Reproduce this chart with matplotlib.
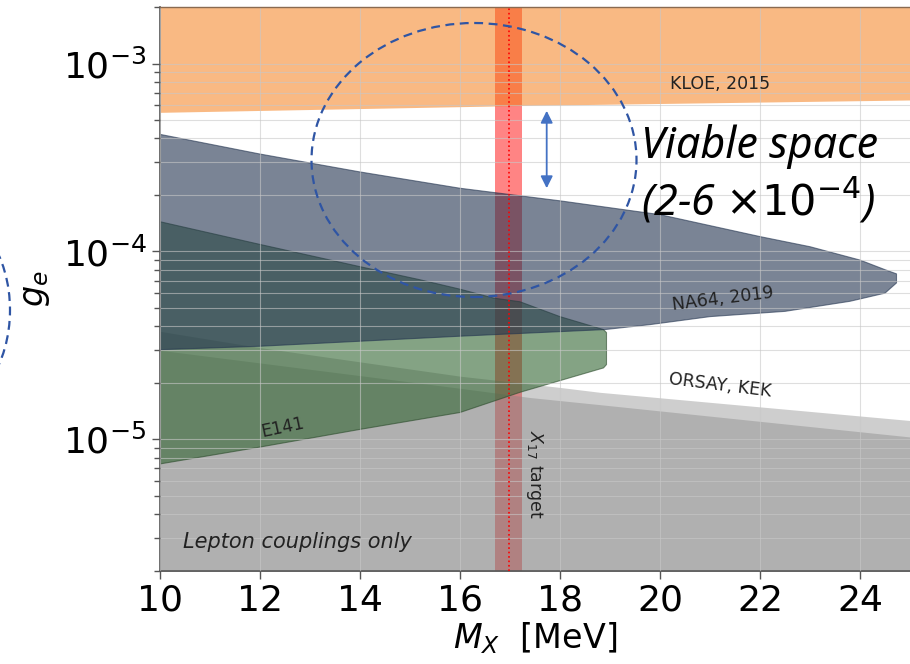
import numpy as np
import matplotlib
matplotlib.use("Agg")
import matplotlib.pyplot as plt
from matplotlib.patches import Ellipse, FancyArrowPatch

# ---- data ----
kloe_x = [10, 17.5, 25]
kloe_low = [5.5e-4, 6.0e-4, 6.4e-4]

na64_up_x = [10, 12, 14, 16, 18, 20, 22, 23, 24, 24.5, 24.73]
na64_up_y = [4.2e-4, 3.3e-4, 2.65e-4, 2.17e-4, 1.86e-4, 1.57e-4, 1.2e-4, 1.06e-4, 9.0e-5, 8.0e-5, 7.6e-5]
na64_lo_x = [24.73, 24.5, 23.8, 22.5, 21, 19.8, 18.9, 16, 12, 10]
na64_lo_y = [6.8e-5, 6.0e-5, 5.43e-5, 4.8e-5, 4.5e-5, 4.08e-5, 3.84e-5, 3.54e-5, 3.13e-5, 3.0e-5]

e141_up_x = [10, 12, 14, 15.2, 16, 16.67, 17.2, 18, 18.87, 18.93]
e141_up_y = [1.44e-4, 1.09e-4, 8.3e-5, 7.07e-5, 6.3e-5, 5.65e-5, 5.4e-5, 4.5e-5, 3.84e-5, 3.7e-5]
e141_lo_x = [18.93, 18.87, 17.2, 16, 14, 12, 10]
e141_lo_y = [2.5e-5, 2.4e-5, 1.78e-5, 1.39e-5, 1.13e-5, 9.1e-6, 7.4e-6]

orsay_x = [10, 12, 16, 18, 18.8, 25]
orsay_top = [3.76e-5, 3.08e-5, 2.17e-5, 1.89e-5, 1.78e-5, 1.26e-5]
lepton_x = [10, 13, 16, 17.4, 18.8, 25]
lepton_top = [2.98e-5, 2.36e-5, 1.87e-5, 1.67e-5, 1.53e-5, 1.03e-5]

x17_band = (16.7, 17.23)
x17_center = 16.97

xticks = [10, 12, 14, 16, 18, 20, 22, 24]

# ---- figure ----
fig = plt.figure(figsize=(9.10, 6.64), dpi=100)
ax = fig.add_axes([160/910, 1 - 570.7/664, 750/910, (570.7 - 7)/664])
ax.set_yscale('log')
ax.set_xlim(10, 25)
ax.set_ylim(2e-6, 2e-3)

bottom = 1e-7
ax.axvspan(x17_band[0], x17_band[1], color='#ff0a0a', alpha=0.5, lw=0, zorder=0.5)

ax.fill_between(orsay_x, bottom, orsay_top, color='#808080', alpha=0.38, lw=0, zorder=1)
ax.fill_between(lepton_x, bottom, lepton_top, color='#808080', alpha=0.38, lw=0, zorder=1.1)

ax.fill(e141_up_x + e141_lo_x, e141_up_y + e141_lo_y, facecolor='#336633', alpha=0.6,
        edgecolor='#2a4a2a', lw=0.8, zorder=1.5)
ax.fill(na64_up_x + na64_lo_x, na64_up_y + na64_lo_y, facecolor='#22334f', alpha=0.6,
        edgecolor='#22334f', lw=0.8, zorder=1.8)
ax.fill_between(kloe_x, kloe_low, 1e-1, color='#f57a12', alpha=0.52, lw=0, zorder=1.9)

ax.axvline(x17_center, color='red', ls=':', lw=1.2, zorder=5)

ax.grid(True, which='major', color='#c8c8c8', lw=0.8, alpha=0.6)
ax.grid(True, which='minor', axis='y', color='#c8c8c8', lw=0.8, alpha=0.6)
ax.set_axisbelow(False)

ax.set_xticks(xticks)
ax.tick_params(axis='both', which='major', labelsize=26, length=6, width=1, color='#555555')
ax.tick_params(axis='y', which='minor', length=4, width=1, color='#555555')
for s in ['top', 'right']:
    ax.spines[s].set_visible(False)
for s in ['left', 'bottom']:
    ax.spines[s].set_color('#555555')
    ax.spines[s].set_linewidth(1.2)
ax.plot([0, 1], [1, 1], transform=ax.transAxes, color='#8a6a50', lw=1, clip_on=False, zorder=6)

ax.set_xlabel(r'$M_X$  [MeV]', fontsize=24, labelpad=2)
ax.set_ylabel(r'$g_e$', fontsize=24, labelpad=8)

# region labels
ax.text(21.2, 7.8e-4, 'KLOE, 2015', fontsize=12.5, ha='center', va='center', color='#222222', zorder=7)
ax.text(21.25, 5.6e-5, 'NA64, 2019', fontsize=12.5, ha='center', va='center', rotation=7,
        color='#222222', zorder=7)
ax.text(21.2, 1.95e-5, 'ORSAY, KEK', fontsize=12.5, ha='center', va='center', rotation=-7,
        color='#222222', zorder=7)
ax.text(12.45, 1.16e-5, 'E141', fontsize=12.5, ha='center', va='center', rotation=12,
        color='#222222', zorder=7)
ax.text(17.5, 6.5e-6, r'$X_{17}$ target', fontsize=12.5, ha='center', va='center', rotation=-90,
        color='#222222', zorder=7)
ax.text(0.031, 0.033, 'Lepton couplings only', transform=ax.transAxes, fontsize=15,
        style='italic', ha='left', va='bottom', color='#222222', zorder=7)

# slide annotations (figure coordinates)
W, H = 910, 664
def fx(px): return px / W
def fy(py): return 1 - py / H

e1 = Ellipse((fx(474), fy(160)), 325/W, 274/H, transform=fig.transFigure, fill=False,
             ls=(0, (4, 2.5)), lw=1.6, edgecolor='#2f55a4', zorder=10)
fig.add_artist(e1)
e2 = Ellipse((fx(-60), fy(310)), 140/W, 202/H, transform=fig.transFigure, fill=False,
             ls=(0, (4, 2.5)), lw=1.6, edgecolor='#2f55a4', zorder=10)
fig.add_artist(e2)

arr = FancyArrowPatch((fx(546.7), fy(108)), (fx(546.7), fy(191)), transform=fig.transFigure,
                      arrowstyle='<|-|>', mutation_scale=18, color='#4472c4', lw=1.3, zorder=10)
fig.add_artist(arr)

fig.text(fx(641), fy(158), 'Viable space', fontsize=31, style='italic', family='Noto Sans',
         ha='left', va='baseline', color='black', zorder=10)
fig.text(fx(641), fy(215), r'(2-6 $\times 10^{-4}$)', fontsize=31, style='italic',
         family='Noto Sans', ha='left', va='baseline', color='black', zorder=10)

fig.savefig('out.png', dpi=100)
